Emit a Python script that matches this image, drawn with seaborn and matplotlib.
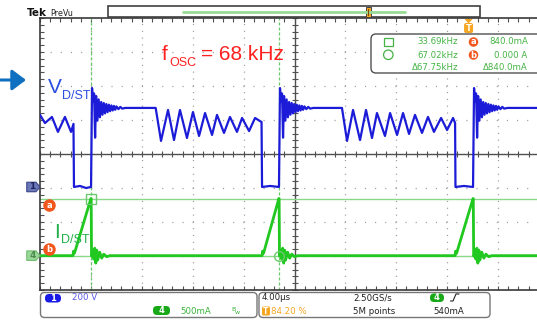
import numpy as np
import pandas as pd
import matplotlib
matplotlib.use("Agg")
import matplotlib.pyplot as plt
import seaborn as sns
from matplotlib.patches import FancyBboxPatch, Rectangle, Polygon, Ellipse
from matplotlib.ticker import MultipleLocator

# ---------------- scope readouts ----------------
time_per_div_us = 4.0
ch1_v_per_div = 200.0
ch4_ma_per_div = 500.0
sample_rate_label = "2.50GS/s"
record_label = "5M points"
trigger_pct = 84.20
trigger_level_ma = 540.0
cursor_a_khz = 33.69
cursor_b_khz = 67.02
cursor_delta_khz = 67.75
cursor_a_ma = 840.0
cursor_b_ma = 0.0
ch1_pos_div = -0.97
ch4_pos_div = -2.99
f_osc_khz = 68

# ---------------- CH1 : V_D/ST  (time in us, volts) ----------------
pre_t = [0.00, 0.39, 0.94, 1.41, 1.96, 2.44, 2.63, 2.67, 3.14, 3.62]
pre_v = [424, 376, 412, 324, 412, 324, 371, 0, 6, -6]

rise_times = [4.01, 18.78, 34.03]
ring_dt = [0.00, 0.08, 0.16, 0.24, 0.32, 0.40, 0.50, 0.60, 0.70, 0.80, 0.90,
           1.00, 1.10, 1.20, 1.30, 1.40, 1.50, 1.60, 1.70, 1.80, 1.90, 2.00,
           2.15, 2.30, 2.45, 2.70]
ring_v = [0, 582, 500, 550, 290, 535, 390, 515, 410, 500, 425, 494, 433, 488,
          440, 484, 446, 480, 450, 477, 454, 474, 458, 471, 461, 465]
plateau_v = 465
plateau_end = [9.09, 23.73, 41.0]

osc1_t = [9.51, 10.06, 10.53, 11.00, 11.55, 12.02, 12.50, 12.97, 13.52, 13.91,
          14.46, 14.93, 15.48, 15.88, 16.43, 16.90, 17.41, 17.45, 18.08, 18.74]
osc1_v = [271, 453, 276, 453, 288, 441, 300, 435, 306, 424, 318, 412, 324, 406,
          329, 406, 382, 0, 6, 0]
osc2_t = [24.13, 24.60, 25.15, 25.62, 26.09, 26.48, 27.11, 27.51, 28.06, 28.53,
          29.00, 29.47, 30.02, 30.49, 30.96, 31.52, 31.99, 32.46, 32.62, 32.65,
          33.32, 33.99]
osc2_v = [271, 453, 276, 453, 288, 435, 300, 435, 306, 435, 312, 424, 318, 412,
          324, 406, 335, 406, 376, 0, 6, 0]

# ---------------- CH4 : I_D/ST  (time in us, mA) ----------------
ramp_start = [2.59, 17.45, 32.62]
ramp_peak = [4.00, 18.77, 34.03]
peak_ma = 840
bump_dt = [0.00, 0.04, 0.12]
bump_i = [0, 66, 37]
iring_dt = [0.02, 0.05, 0.08, 0.14, 0.22, 0.30, 0.38, 0.46, 0.53, 0.69, 0.85,
            1.01, 1.24, 1.48]
iring_i = [840, -7, -7, 66, -51, 110, -110, 81, -66, 51, -37, 22, -15, 0]

# ---------------- assemble traces ----------------
def ring_at(t0):
    return [t0 + d for d in ring_dt], list(ring_v)

t1, v1 = list(pre_t), list(pre_v)
osc_t = [osc1_t, osc2_t, None]
osc_v = [osc1_v, osc2_v, None]
for k in range(3):
    rt, rv = ring_at(rise_times[k])
    t1 += rt
    v1 += rv
    t1.append(plateau_end[k])
    v1.append(plateau_v)
    if osc_t[k] is not None:
        t1 += osc_t[k]
        v1 += osc_v[k]

t4, i4 = [0.0], [0]
for s, p in zip(ramp_start, ramp_peak):
    t4 += [s + d for d in bump_dt]
    i4 += bump_i
    t4.append(p)
    i4.append(peak_ma)
    t4 += [p + d for d in iring_dt]
    i4 += iring_i
t4.append(41.0)
i4.append(0)

df1 = pd.DataFrame({"x": np.array(t1) / time_per_div_us,
                    "y": np.array(v1) / ch1_v_per_div + ch1_pos_div})
df4 = pd.DataFrame({"x": np.array(t4) / time_per_div_us,
                    "y": np.array(i4) / ch4_ma_per_div + ch4_pos_div})

trigger_t = trigger_pct / 100 * 10 * time_per_div_us
cur_a_x = (trigger_t - 1000 / cursor_a_khz) / time_per_div_us
cur_b_x = (trigger_t - 1000 / cursor_b_khz) / time_per_div_us
cur_a_y = cursor_a_ma / ch4_ma_per_div + ch4_pos_div
cur_b_y = cursor_b_ma / ch4_ma_per_div + ch4_pos_div

# ---------------- figure ----------------
sns.set_theme(style="white")
plt.rcParams["font.family"] = ["DejaVu Sans"]
plt.rcParams["lines.scale_dashes"] = False

W, H = 537, 320
fig = plt.figure(figsize=(W / 100, H / 100), dpi=100)
fig.patch.set_facecolor("white")
L, B, PW, PH = 40, 30, 509, 272
ax = fig.add_axes([L / W, B / H, PW / W, PH / H])
ax.set_facecolor("white")

blue = "#1c1cd8"
green = "#20c820"
curs = "#6cc86c"

# graticule
grid_c = "#9a9a9a"
for i in range(1, 10):
    if i != 5:
        ax.axvline(i, color=grid_c, lw=0.9, dashes=(0.8, 4.1), zorder=0)
for j in range(-3, 4):
    if j != 0:
        ax.axhline(j, color=grid_c, lw=0.9, dashes=(0.8, 6.5), zorder=0)
ax.axhline(0, color="#505050", lw=1.0, zorder=1)
ax.axvline(5, color="#505050", lw=1.0, zorder=1)
xs = np.arange(0, 10.001, 0.2)
ys = np.arange(-4, 4.001, 0.2)
ax.plot(xs, np.zeros_like(xs), ls="none", marker="|", ms=4, mew=0.8,
        color="#505050", zorder=1)
ax.plot(np.full_like(ys, 5), ys, ls="none", marker="_", ms=5, mew=0.8,
        color="#505050", zorder=1)

# cursors
ax.axvline(cur_a_x, color=curs, lw=0.9, dashes=(2.2, 1.4), zorder=2)
ax.axvline(cur_b_x, color=curs, lw=0.9, dashes=(2.2, 1.4), zorder=2)
ax.axhline(cur_a_y, color="#8ad88a", lw=1.0, zorder=2)
ax.axhline(cur_b_y, color="#8ad88a", lw=1.0, zorder=2)

# traces
sns.lineplot(data=df1, x="x", y="y", sort=False, estimator=None, color=blue,
             lw=1.6, ax=ax, zorder=4)
sns.lineplot(data=df4, x="x", y="y", sort=False, estimator=None, color=green,
             lw=2.0, ax=ax, zorder=5)

ax.plot(cur_a_x, cur_a_y, marker="s", ms=7, mfc="none", mec=curs, mew=1,
        zorder=6)
ax.plot(cur_b_x, cur_b_y, marker="o", ms=7, mfc="none", mec=curs, mew=1,
        zorder=6)

# cursor badges a / b
for yy, lab in [(cur_a_y - 0.19, "a"), (cur_b_y + 0.19, "b")]:
    ax.plot(0.18, yy, "o", ms=8, color="#f0561e", zorder=7, clip_on=False)
    ax.text(0.18, yy, lab, color="white", fontsize=6, fontweight="bold",
            ha="center", va="center", zorder=8)

# channel position markers
for yy, fc, ec, tc, lab in [(ch1_pos_div, "#6a78b8", "#3a4488", "#1e2460", "1"),
                            (ch4_pos_div, "#9ad89a", "#70bc70", "#4f8a4f", "4")]:
    poly = Polygon([(-0.26, yy + 0.14), (-0.08, yy + 0.14), (0, yy),
                    (-0.08, yy - 0.14), (-0.26, yy - 0.14)], closed=True,
                   fc=fc, ec=ec, lw=0.8, clip_on=False, zorder=7)
    ax.add_patch(poly)
    ax.text(-0.15, yy, lab, color=tc, fontsize=6.5, fontweight="bold",
            ha="center", va="center", zorder=8)

ax.set_xlim(0, 10)
ax.set_ylim(-4, 4)
ax.set_xlabel("")
ax.set_ylabel("")
ax.set_xticks(range(11))
ax.set_yticks(range(-4, 5))
ax.xaxis.set_minor_locator(MultipleLocator(0.2))
ax.yaxis.set_minor_locator(MultipleLocator(0.2))
ax.tick_params(which="both", direction="in", length=3, width=0.8,
               colors="#505050", top=True, bottom=True, left=True, right=False,
               labelbottom=False, labelleft=False)
for s in ["left", "top", "bottom"]:
    ax.spines[s].set_color("#3a3a3a")
    ax.spines[s].set_linewidth(1.2)
ax.spines["right"].set_visible(False)

# ---------------- overlay (pixel coordinates) ----------------
ov = fig.add_axes([0, 0, 1, 1], zorder=10)
ov.set_xlim(0, W)
ov.set_ylim(H, 0)
ov.axis("off")

# top bar
ov.text(27, 16.5, "Tek", fontsize=7.5, fontweight="bold", color="#111",
        va="baseline")
ov.text(50, 16, "PreVu", fontsize=5.8, color="#222", va="baseline")
ov.add_patch(Rectangle((108, 5.5), 372, 11.5, fc="white", ec="#404040", lw=1.2))
ov.plot([183, 405], [11.5, 11.5], color="#98dc98", lw=2)
ov.add_patch(Rectangle((365.5, 6.5), 5, 10, fc="#f5a623", ec="#444", lw=0.7))
ov.plot([368, 368], [8.5, 15], color="#7a4a00", lw=0.8)

# trigger marker
tx = L + trigger_pct / 100 * PW
orange = "#f5a623"
ov.add_patch(Polygon([(tx - 4, 19), (tx + 4, 19), (tx, 23.5)], fc=orange,
                     ec="none"))
ov.add_patch(FancyBboxPatch((tx - 4.5, 23), 9, 10,
                            boxstyle="round,pad=0,rounding_size=2", fc=orange,
                            ec="none"))
ov.text(tx, 28.3, "T", color="white", fontsize=6, fontweight="bold",
        ha="center", va="center")

# cursor readout box
gtxt = "#44b444"
ov.add_patch(FancyBboxPatch((371, 34), 176, 39,
                            boxstyle="round,pad=0,rounding_size=5", fc="white",
                            ec="#505050", lw=1))
ov.add_patch(Rectangle((384, 37.5), 8.5, 8.5, fc="none", ec=gtxt, lw=0.9))
ov.add_patch(Ellipse((388.3, 54.8), 9.5, 9.5, fc="none", ec=gtxt, lw=0.9))
fs = 6.2
ov.text(458, 42, f"{cursor_a_khz:.2f}kHz", color=gtxt, fontsize=fs,
        ha="right", va="center")
ov.text(458, 55, f"{cursor_b_khz:.2f}kHz", color=gtxt, fontsize=fs,
        ha="right", va="center")
ov.text(458, 68, f"\u0394{cursor_delta_khz:.2f}kHz", color=gtxt, fontsize=fs,
        ha="right", va="center")
for yy, lab in [(42, "a"), (55, "b")]:
    ov.add_patch(Ellipse((473.5, yy), 9.5, 9.5, fc="#f0561e", ec="none"))
    ov.text(473.5, yy, lab, color="white", fontsize=6, fontweight="bold",
            ha="center", va="center")
ov.text(528, 42, f"{cursor_a_ma:.1f}mA", color=gtxt, fontsize=fs, ha="right",
        va="center")
ov.text(527, 55, f"{cursor_b_ma / 1000:.3f} A", color=gtxt, fontsize=fs,
        ha="right", va="center")
ov.text(528, 68, f"\u0394{cursor_a_ma - cursor_b_ma:.1f}mA", color=gtxt,
        fontsize=fs, ha="right", va="center")

# annotations
ov.annotate("", xy=(26, 80), xytext=(0, 80),
            arrowprops=dict(arrowstyle="-|>,head_length=0.6,head_width=0.45",
                            color="#1070c0", lw=2.2, shrinkA=0, shrinkB=0,
                            mutation_scale=14))
sans = ["Liberation Sans", "DejaVu Sans"]
vcol = "#2a4ee0"
ov.text(48, 93, "V", color=vcol, fontsize=15, family=sans, va="baseline")
ov.text(62, 99, "D/ST", color=vcol, fontsize=9, family=sans, va="baseline")
icol = "#22b04a"
ov.text(54, 238, "I", color=icol, fontsize=15, family=sans, va="baseline")
ov.text(61, 243, "D/ST", color=icol, fontsize=9, family=sans, va="baseline")
rcol = "#ff2020"
ov.text(162, 60, "f", color=rcol, fontsize=15, family=sans, va="baseline")
ov.text(169, 66, "OSC", color=rcol, fontsize=9, family=sans, va="baseline")
ov.text(201, 60, f"= {f_osc_khz} kHz", color=rcol, fontsize=15, family=sans,
        va="baseline")

# bottom status boxes
ov.add_patch(FancyBboxPatch((40.5, 292.5), 216.5, 25,
                            boxstyle="round,pad=0,rounding_size=4", fc="white",
                            ec="#777777", lw=1))
ov.add_patch(FancyBboxPatch((259, 292.5), 231, 25,
                            boxstyle="round,pad=0,rounding_size=4", fc="white",
                            ec="#777777", lw=1))
ov.add_patch(FancyBboxPatch((45, 294), 16, 8.5,
                            boxstyle="round,pad=0,rounding_size=4",
                            fc="#1a1ae6", ec="none"))
ov.text(53, 298.4, "1", color="white", fontsize=6, fontweight="bold",
        ha="center", va="center")
ov.text(72, 298, f"{ch1_v_per_div:.0f} V", color="#5a5ae8", fontsize=fs,
        va="center")
ov.add_patch(FancyBboxPatch((153, 306), 17, 9,
                            boxstyle="round,pad=0,rounding_size=4",
                            fc="#18a818", ec="none"))
ov.text(161.5, 310.6, "4", color="white", fontsize=6, fontweight="bold",
        ha="center", va="center")
ov.text(180, 311, f"{ch4_ma_per_div:.0f}mA", color="#3cb43c", fontsize=fs,
        va="center")
ov.text(231.5, 309.5, "B", color="#3cb43c", fontsize=4.5, va="center")
ov.text(234.5, 312.5, "w", color="#3cb43c", fontsize=4.5, va="center")

ov.text(262, 298, f"{time_per_div_us:.2f}\u00b5s", color="#222", fontsize=fs,
        va="center")
ov.add_patch(FancyBboxPatch((262, 306.5), 8, 9,
                            boxstyle="round,pad=0,rounding_size=1.5",
                            fc=orange, ec="none"))
ov.text(266, 311, "T", color="white", fontsize=5.5, fontweight="bold",
        ha="center", va="center")
ov.text(271, 311, f"{trigger_pct:.2f} %", color=orange, fontsize=fs,
        va="center")
ov.text(353, 298, sample_rate_label, color="#222", fontsize=fs, va="center")
ov.text(353, 311, record_label, color="#222", fontsize=fs, va="center")
ov.add_patch(FancyBboxPatch((430, 293.5), 14, 8.5,
                            boxstyle="round,pad=0,rounding_size=4",
                            fc="#18a818", ec="none"))
ov.text(437, 297.9, "4", color="white", fontsize=6, fontweight="bold",
        ha="center", va="center")
ov.plot([450.5, 453, 456, 459], [301, 301, 294, 294], color="#222", lw=0.8)
ov.text(433, 311, f"{trigger_level_ma:.0f}mA", color="#222", fontsize=fs,
        va="center")

fig.savefig("out.png", dpi=100)
